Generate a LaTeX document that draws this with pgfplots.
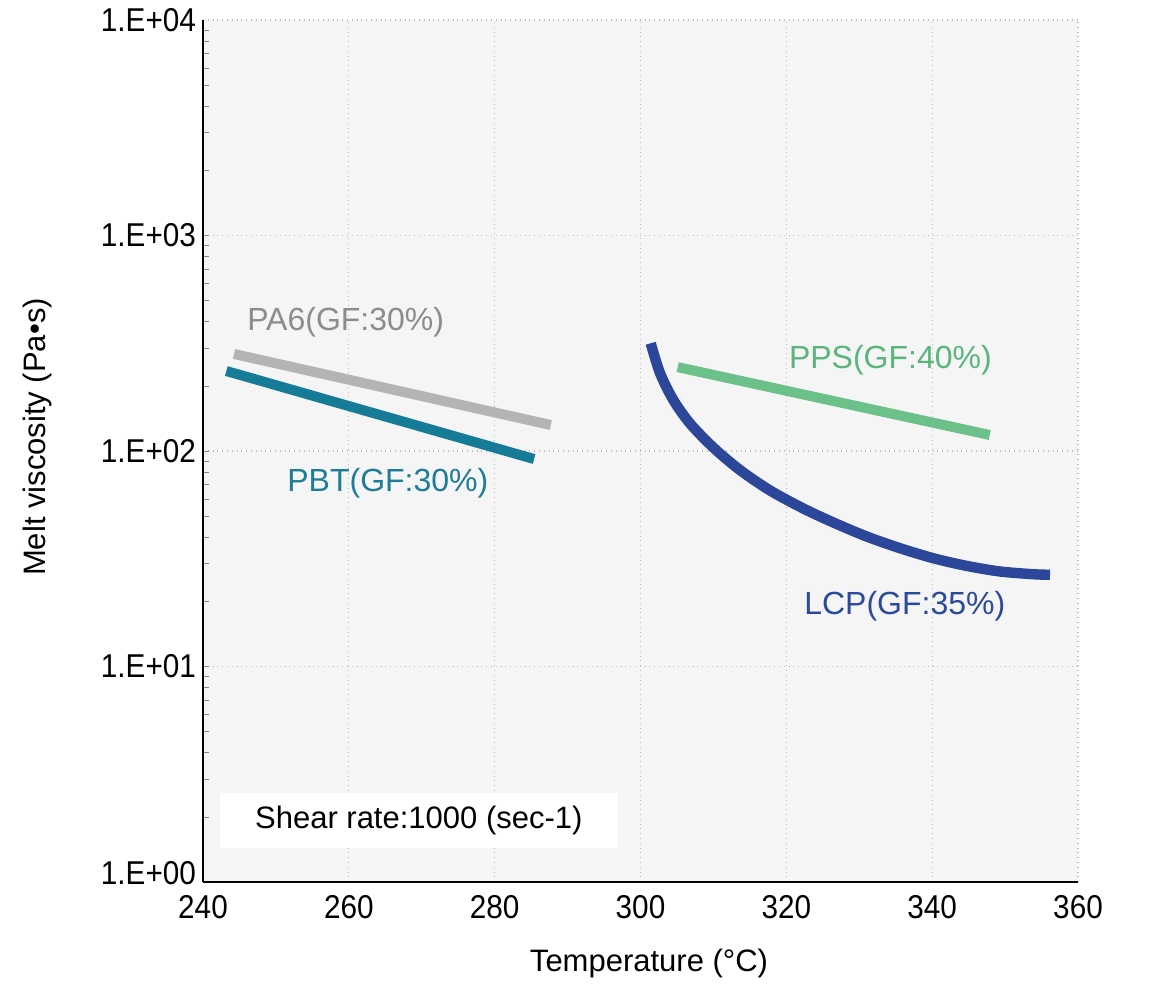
\documentclass[border=0pt]{standalone}
\usepackage{fontspec}
\setmainfont{Liberation Sans}
\newfontfamily\narrowfont[FakeStretch=0.9]{Liberation Sans}
\usepackage{pgfplots}
\pgfplotsset{compat=1.18}
\definecolor{bg}{HTML}{F5F5F5}
\definecolor{gridc}{HTML}{BBBBBB}
\definecolor{pa6}{HTML}{B4B4B4}
\definecolor{pa6t}{HTML}{8C8C8C}
\definecolor{pbt}{HTML}{167B97}
\definecolor{pbtt}{HTML}{1E7C96}
\definecolor{pps}{HTML}{6CC18B}
\definecolor{ppst}{HTML}{5AB57C}
\definecolor{lcp}{HTML}{2C4699}
\definecolor{lcpt}{HTML}{2C4A9A}
\begin{document}
\begin{tikzpicture}
\path[use as bounding box] (0,0) rectangle (580pt,496pt);
\begin{axis}[
  at={(101.5pt,55pt)}, anchor=south west,
  scale only axis, width=437.5pt, height=431pt,
  xmin=240, xmax=360, ymode=log, ymin=1, ymax=10000,
  xtick={240,260,...,360},
  ytick={1,10,100,1000,10000},
  yticklabels={\raisebox{9pt}{1.E+00},1.E+01,1.E+02,1.E+03,1.E+04},
  /pgf/number format/assume math mode=true,
  ticklabel style={font=\narrowfont\fontsize{16.5}{20}\selectfont, text=black},
  xticklabel style={yshift=-3pt},
  major tick length=0pt, minor tick num=0,
  axis x line*=bottom, axis y line*=left,
  axis line style={line width=1pt, black},
  grid=major,
  grid style={dotted, gridc, line width=0.6pt},
  axis background/.style={fill=bg},
  clip=false,
]
\fill[white] (axis cs:242.3,1.44) rectangle (axis cs:296.9,2.59);
\node[font=\fontsize{15.5}{18}\selectfont] at (axis cs:269.6,1.94) {Shear rate:1000 (sec-1)};

\addplot[pa6, line width=5pt] coordinates {(244.25,282) (287.7,132)};
\addplot[pbt, line width=5pt] coordinates {(243.2,235) (285.4,91.8)};
\addplot[pps, line width=5pt] coordinates {(305.1,245) (347.9,118.6)};
\addplot[lcp, line width=5.2pt, smooth, tension=0.5] coordinates {
 (301.40,316.1) (302.67,230.1) (304.50,172.5) (306.79,134.2) (309.98,103.8)
 (313.64,81.6) (317.76,65.6) (322.33,54.1) (326.44,46.6) (331.02,40.1)
 (335.59,35.4) (340.15,31.8) (344.73,29.3) (349.30,27.6) (353.87,26.8)
 (356.16,26.65)};

\node[anchor=west, text=pa6t, font=\fontsize{16}{19}\selectfont] at (axis cs:245.1,397) {PA6(GF:30\%)};
\node[anchor=west, text=pbtt, font=\fontsize{16}{19}\selectfont] at (axis cs:250.6,71.1) {PBT(GF:30\%)};
\node[anchor=west, text=ppst, font=\fontsize{16}{19}\selectfont] at (axis cs:319.4,264) {PPS(GF:40\%)};
\node[anchor=west, text=lcpt, font=\fontsize{16}{19}\selectfont] at (axis cs:321.5,19.1) {LCP(GF:35\%)};
\end{axis}
\node[font=\fontsize{15.5}{18}\selectfont] at (324.5pt,14.5pt) {Temperature (°C)};
\node[font=\fontsize{15.5}{18}\selectfont, rotate=90] at (18.5pt,277.5pt) {Melt viscosity (Pa•s)};
\end{tikzpicture}
\end{document}
